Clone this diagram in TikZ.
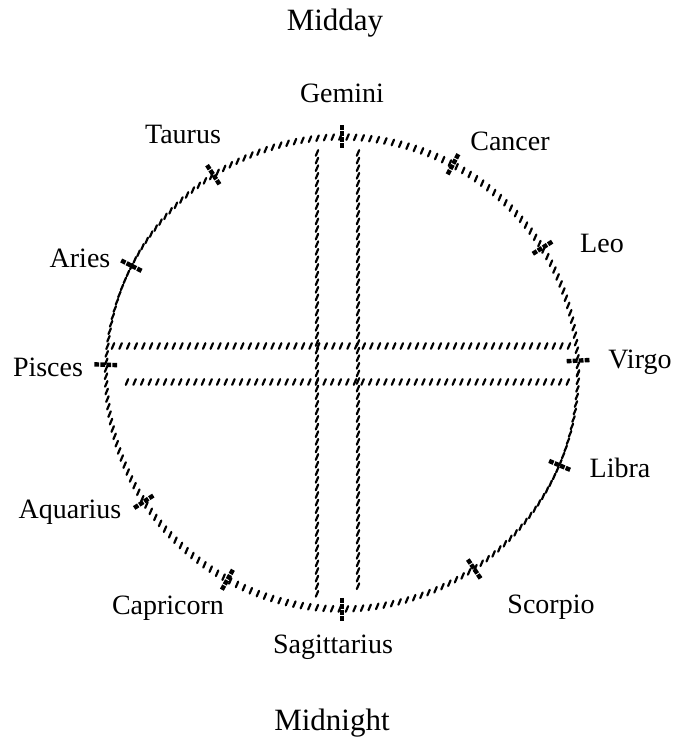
\documentclass[tikz,border=0pt]{standalone}
\usepackage{fontspec}
\setmainfont{Liberation Serif}
\usetikzlibrary{decorations.markings}

\begin{document}
\begin{tikzpicture}[
    x=0.5pt, y=0.5pt,
    hatch/.style={
        postaction={decorate},
        decoration={markings,
            mark=between positions 0 and 1 step 3.8pt with {
                \pgftransformresetnontranslations
                \draw[line width=1.1pt, line cap=round] (-0.6pt,-1.4pt) -- (0.6pt,1.4pt);
            }
        }
    },
    tickmark/.style={line width=2.2pt, dash pattern=on 2.4pt off 0.6pt},
    sign/.style={font=\fontsize{14}{16}\selectfont},
    hour/.style={font=\fontsize{15.5}{18}\selectfont}
]
\useasboundingbox (0,0) rectangle (676,743);

% === Circle of the signs ===
\coordinate (c) at (342,370);
\path[hatch] (c) circle [radius=236];

% === Meridian band ===
\path[hatch] (317,590) -- (317,146);
\path[hatch] (358,590) -- (358,150);

% === Horizon band ===
\path[hatch] (113,397) -- (572,397);
\path[hatch] (127,361) -- (572,361);

% === Ticks ===
\foreach \a in {90,62,32,3,-23,-56,-90,-119,-147,178,153,123}
    \draw[tickmark] ([shift={(\a:225)}]c) -- ([shift={(\a:248)}]c);

% === Labels ===
\node[hour] (midday) at (335,720) {Midday};
\node[hour] (midnight) at (332,20) {Midnight};

\node[sign] (gemini) at (342,650) {Gemini};
\node[sign] (cancer) at (510,602) {Cancer};
\node[sign] (leo) at (602,500) {Leo};
\node[sign] (virgo) at (640,381) {Virgo};
\node[sign] (libra) at (620,275) {Libra};
\node[sign] (scorpio) at (551,136) {Scorpio};
\node[sign] (sagittarius) at (333,96) {Sagittarius};
\node[sign] (capricorn) at (168,135) {Capricorn};
\node[sign] (aquarius) at (70,231) {Aquarius};
\node[sign] (pisces) at (48,376) {Pisces};
\node[sign] (aries) at (80,485) {Aries};
\node[sign] (taurus) at (183,609) {Taurus};

\end{tikzpicture}
\end{document}
